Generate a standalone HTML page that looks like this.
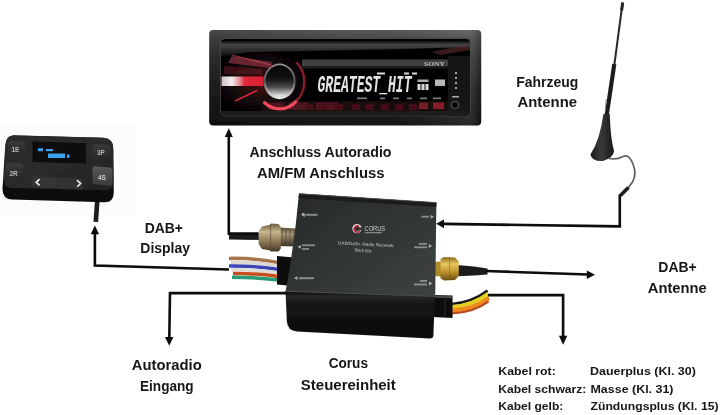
<!DOCTYPE html>
<html><head><meta charset="utf-8"><title>DAB+ Anschluss</title>
<style>
html,body{margin:0;padding:0;background:#fff;width:720px;height:415px;overflow:hidden}
svg{display:block}
text{font-family:"Liberation Sans",sans-serif;font-weight:bold;fill:#161616}
.t14{font-size:14px}
.t12{font-size:11.6px}
.ln{stroke:#0a0a0a;stroke-width:2.6;fill:none;stroke-linejoin:miter}
.ah{fill:#0a0a0a}
</style></head><body>
<svg width="720" height="415" viewBox="0 0 720 415">
<defs>
<filter id="b1" x="-5%" y="-5%" width="110%" height="110%"><feGaussianBlur stdDeviation="0.6"/></filter>
<filter id="b2" x="-5%" y="-5%" width="110%" height="110%"><feGaussianBlur stdDeviation="1"/></filter>
<filter id="b05"><feGaussianBlur stdDeviation="0.4"/></filter>
</defs>
<rect width="720" height="415" fill="#fff"/>

<!-- RADIO -->
<g id="radio">
<defs>
<linearGradient id="rOut" x1="0" y1="0" x2="0" y2="1"><stop offset="0" stop-color="#58585a"/><stop offset="0.09" stop-color="#48484a"/><stop offset="0.3" stop-color="#343434"/><stop offset="0.6" stop-color="#222"/><stop offset="1" stop-color="#131313"/></linearGradient>
<linearGradient id="rSide" x1="0" y1="0" x2="1" y2="0"><stop offset="0" stop-color="#000" stop-opacity="0.18"/><stop offset="0.5" stop-color="#000" stop-opacity="0"/><stop offset="0.95" stop-color="#fff" stop-opacity="0.1"/><stop offset="1" stop-color="#000" stop-opacity="0.2"/></linearGradient>
<linearGradient id="rTop" x1="0" y1="0" x2="0" y2="1"><stop offset="0" stop-color="#101010"/><stop offset="0.25" stop-color="#4a4a4a"/><stop offset="1" stop-color="#141414"/></linearGradient>
<linearGradient id="knob" x1="0" y1="0" x2="0" y2="1"><stop offset="0" stop-color="#040404"/><stop offset="0.45" stop-color="#141414"/><stop offset="0.7" stop-color="#4a4a4a"/><stop offset="0.88" stop-color="#a8a8a8"/><stop offset="1" stop-color="#efefef"/></linearGradient>
<linearGradient id="ring" x1="0" y1="0" x2="0" y2="1"><stop offset="0" stop-color="#9a9a9a"/><stop offset="0.5" stop-color="#555"/><stop offset="1" stop-color="#f0f0f0"/></linearGradient>
<linearGradient id="band" x1="0" y1="0" x2="1" y2="0"><stop offset="0" stop-color="#c8c0c0"/><stop offset="0.25" stop-color="#f4eeee"/><stop offset="0.45" stop-color="#e08088"/><stop offset="0.55" stop-color="#e02a3a"/><stop offset="1" stop-color="#d82030"/></linearGradient>
<radialGradient id="redglow" cx="0.5" cy="0.5" r="0.5"><stop offset="0" stop-color="#a01828" stop-opacity="0.5"/><stop offset="1" stop-color="#400810" stop-opacity="0"/></radialGradient>
<clipPath id="rface"><rect x="221" y="38.5" width="249" height="77" rx="4"/></clipPath>
</defs>
<g filter="url(#b1)">
<rect x="209.2" y="30" width="272" height="95.4" rx="4" fill="url(#rOut)"/>
<rect x="209.2" y="30" width="272" height="95.4" rx="4" fill="url(#rSide)"/><rect x="220.3" y="37.8" width="250.4" height="78.4" rx="4.5" fill="#4a4a4a"/><rect x="221" y="39" width="249" height="76.5" rx="4" fill="#060606"/>
<g clip-path="url(#rface)">
<!-- top reflection -->
<path d="M221 41 H470 V47 L400 49 L250 52 L221 56Z" fill="url(#rTop)" opacity="0.9"/>
<path d="M432 52 L470 44 V50 L440 55Z" fill="#5a2a2e" opacity="0.6"/>
<!-- gray bar above display -->
<rect x="302" y="59.5" width="146" height="7" fill="#414141"/>
<rect x="302" y="66.5" width="146" height="2" fill="#1c1c1c"/>
<rect x="448" y="56" width="22" height="60" fill="#191919"/>
<!-- red glow left -->
<ellipse cx="262" cy="82" rx="46" ry="30" fill="url(#redglow)"/>
<path d="M232 56 L272 62 L270 68 L228 63Z" fill="#b04050" opacity="0.55"/><path d="M224 66 L262 69 L262 74 L224 74Z" fill="#6a1c28" opacity="0.5"/>
<path d="M232 55 L275 66" stroke="#d05060" stroke-width="1.2" opacity="0.6"/>
<!-- red diagonal -->
<path d="M235 101 L257 90.5" stroke="#e03040" stroke-width="1.6" opacity="0.9"/>
<!-- bottom buttons row -->
<rect x="262" y="101.5" width="186" height="9.5" fill="#1a090c"/><g fill="#4e121a"><rect x="268" y="102.5" width="16" height="7.5"/><rect x="289" y="102.5" width="19" height="7.5"/><rect x="316" y="102.5" width="22" height="7.5"/></g>
<g fill="#4a1018" opacity="0.9" transform="translate(0,1)">
<rect x="305" y="103" width="9" height="6"/><rect x="318" y="103" width="9" height="6"/><rect x="334" y="103" width="9" height="6"/>
<rect x="352" y="103" width="8" height="6"/><rect x="366" y="103" width="8" height="6"/><rect x="381" y="103" width="8" height="6"/><rect x="395" y="103" width="8" height="6"/><rect x="409" y="103" width="8" height="6"/>
</g>
<rect x="419" y="102.5" width="9" height="6.5" fill="#7a1a26"/><rect x="433" y="102.5" width="11" height="6.5" fill="#8a1c2a"/>
<!-- small labels above buttons -->
<g fill="#999" opacity="0.8"><rect x="357" y="97.5" width="10" height="1.6"/><rect x="380" y="97.5" width="5" height="1.6"/><rect x="393" y="97.5" width="6" height="1.6"/><rect x="407" y="97.5" width="5" height="1.6"/><rect x="420" y="97.5" width="7" height="1.6"/><rect x="433" y="97.5" width="8" height="1.6"/></g>
<!-- bottom lip -->
<rect x="221" y="111" width="249" height="5" fill="#1c1c1c"/>
</g>
<!-- red arc -->
<path d="M264.6 102.6 A23 25.6 0 0 0 296 101.4" stroke="#f04a5c" stroke-width="3.4" fill="none" stroke-linecap="round"/>
<path d="M296 101.4 A23 25.6 0 0 0 296.4 62.4" stroke="#a82636" stroke-width="2.4" fill="none" opacity="0.8"/>
<!-- band -->
<rect x="221.5" y="76.5" width="42" height="9.5" fill="url(#band)"/>
<!-- knob -->
<ellipse cx="279.6" cy="81.4" rx="16" ry="17.8" fill="url(#ring)"/>
<ellipse cx="279.6" cy="80.8" rx="14" ry="15.6" fill="url(#knob)"/>
<!-- display text -->
<text x="317.5" y="92.3" font-style="italic" font-size="24" textLength="94" lengthAdjust="spacingAndGlyphs" style="fill:#e4e4e4;font-weight:bold;font-family:'Liberation Mono',monospace">GREATEST_HIT</text>
<!-- icons right -->
<g fill="#d8d8d8"><rect x="417.5" y="84" width="3" height="6"/><rect x="421.5" y="84" width="3" height="6"/><rect x="425.5" y="84" width="3" height="6"/><rect x="417.5" y="79.5" width="11" height="2.5" opacity="0.8"/><rect x="435" y="79.5" width="10" height="6.5" opacity="0.85"/>
<rect x="377" y="72.5" width="8" height="2"/><rect x="404" y="72.5" width="5" height="2"/><rect x="412" y="72.5" width="5" height="2"/></g>
<!-- SONY -->
<text x="424" y="66.3" font-size="5.5" textLength="21" lengthAdjust="spacingAndGlyphs" style="fill:#bdbdbd;font-family:'Liberation Serif',serif">SONY</text>
<!-- aux -->
<circle cx="455" cy="105" r="4.6" fill="#3a3a3a"/><circle cx="455" cy="105" r="2.6" fill="#000"/>
<g fill="#aaa"><rect x="455" y="72" width="2" height="2"/><rect x="455" y="77" width="2" height="2"/><rect x="455" y="82" width="2" height="2"/><rect x="455" y="87" width="2" height="2"/><rect x="452" y="96" width="7" height="1.5"/></g>
</g>
</g>
<!-- DISPLAY -->
<g id="display">
<defs>
<linearGradient id="dBody" x1="0" y1="0" x2="1" y2="1"><stop offset="0" stop-color="#2b2b2b"/><stop offset="0.5" stop-color="#2a2a2a"/><stop offset="1" stop-color="#222"/></linearGradient>
<linearGradient id="dBtn" x1="0" y1="0" x2="0" y2="1"><stop offset="0" stop-color="#3a3a3a"/><stop offset="1" stop-color="#272727"/></linearGradient>
<linearGradient id="dBtn2" x1="0" y1="0" x2="0" y2="1"><stop offset="0" stop-color="#5a5a5a"/><stop offset="1" stop-color="#3a3a3a"/></linearGradient>
</defs>
<rect x="0" y="124" width="136" height="92" fill="#fcfcfc" filter="url(#b2)"/>
<g filter="url(#b1)">
<!-- cable -->
<path d="M97.4 199 L95.8 221.8" stroke="#1a1a1a" stroke-width="4.6" fill="none"/>
<!-- side (thickness) -->
<path d="M5 150 Q5 137 13 135.5 L103 137.8 Q113.4 138.4 113.4 149 L113.8 192 Q113.8 202.8 104 202.3 L12 199.5 Q2.4 199 2.5 189 Z" fill="#0d0d0d"/>
<!-- top face -->
<path d="M5.4 146 Q5.4 135.6 13.5 135.3 L103 137.7 Q113 138.2 113 148 L113.3 182 Q113.3 190.6 105 190.2 L12 188 Q3.6 187.6 3.8 180 Z" fill="url(#dBody)"/>
<!-- buttons -->
<path d="M8 143.5 Q8 141 11 141 L23 141.6 Q25.5 141.8 25.5 144.5 L25.5 155 Q25.5 157.5 23 157.4 L11 156.6 Q8 156.4 8 154Z" fill="url(#dBtn)"/>
<path d="M6 165 Q6 162.5 9 162.7 L21 163.6 Q23.5 163.8 23.5 166.5 L23.5 179.5 Q23.5 182 21 181.7 L9 180.4 Q6 180 6 177.5Z" fill="url(#dBtn)"/>
<path d="M92.5 146.5 Q92.5 144 95 144.1 L108 144.8 Q110.5 145 110.5 147.5 L110.5 158 Q110.5 160.5 108 160.4 L95 159.6 Q92.5 159.5 92.5 157Z" fill="url(#dBtn)"/>
<path d="M92.5 168.5 Q92.5 166 95 166.2 L110 167.5 Q112.5 167.8 112.5 170.5 L112.5 183.5 Q112.5 186 110 185.8 L95 184.2 Q92.5 184 92.5 181.5Z" fill="url(#dBtn2)"/>
<path d="M32.5 176.5 L57 177.4 L57 188.4 L32.5 187.2Z" fill="#353535"/>
<path d="M58 177.4 L82.5 178.4 L82.5 189.8 L58 188.6Z" fill="#333"/>
<!-- screen -->
<path d="M32.5 141.5 L86 143.2 L86 163.5 L32.5 162Z" fill="#0a0a0a"/>
<g fill="#3aa4ee"><rect x="38" y="148.2" width="5" height="3"/><rect x="46" y="149" width="7" height="2.2"/><rect x="48" y="153.5" width="17" height="4.5"/><rect x="67" y="154.5" width="2.5" height="3.5"/></g>
<!-- labels -->
<g style="font-size:6px;fill:#e8e8e8" font-size="6">
<text x="11.5" y="152" style="font-size:6.5px;fill:#b8b8b8">1E</text>
<text x="9.5" y="175.5" style="font-size:6.5px;fill:#b8b8b8">2R</text>
<text x="97" y="155" style="font-size:6.5px;fill:#b8b8b8">3P</text>
<text x="98" y="179.5" style="font-size:6.5px;fill:#d0d0d0">4S</text>
</g>
<path d="M39.6 179.2 L36.2 182.3 L39.6 185.4" stroke="#eee" stroke-width="1.6" fill="none"/>
<path d="M77 180.2 L80.6 183.5 L77.2 186.8" stroke="#eee" stroke-width="1.6" fill="none"/>
</g>
</g>
<!-- ANTENNA -->
<g id="antenna" filter="url(#b1)">
<defs><linearGradient id="aBase" x1="0" y1="0" x2="1" y2="0"><stop offset="0" stop-color="#1c1c1c"/><stop offset="0.45" stop-color="#3a3a3a"/><stop offset="1" stop-color="#161616"/></linearGradient></defs>
<!-- thin whip -->
<path d="M622.6 2.5 L614.2 66" stroke="#2a2a2a" stroke-width="2" fill="none"/>
<path d="M622.7 2.5 L621.6 10.5" stroke="#222" stroke-width="3" fill="none"/>
<!-- thick rod -->
<path d="M614.3 64 L606.3 118" stroke="#1e1e1e" stroke-width="4.2" fill="none"/>
<path d="M606.2 99 L605.2 110" stroke="#777" stroke-width="0.8" fill="none"/>
<!-- base -->
<path d="M603.4 114 L609.8 114 Q610.4 138 614 151 Q613.4 158 603 161 Q591.6 161.6 590.4 154.5 Q600 140 603.4 114Z" fill="url(#aBase)"/>
<!-- cable -->
<path d="M609 158.5 Q617 160 623 156.5 Q629 153.5 633 164 Q637 174 632.5 182 L628 188" stroke="#5e5e5e" stroke-width="1.7" fill="none"/>
<path d="M628.4 187.4 L620.4 195.6" stroke="#1c1c1c" stroke-width="3.6" fill="none"/>
</g>
<!-- BOX -->
<g id="box">
<defs>
<linearGradient id="bTop" x1="0" y1="0" x2="1" y2="1"><stop offset="0" stop-color="#262929"/><stop offset="0.45" stop-color="#303434"/><stop offset="1" stop-color="#3e4242"/></linearGradient>
<linearGradient id="bFront" x1="0" y1="0" x2="0" y2="1"><stop offset="0" stop-color="#0c0c0c"/><stop offset="0.12" stop-color="#262626"/><stop offset="0.3" stop-color="#151515"/><stop offset="1" stop-color="#0b0b0b"/></linearGradient>
<linearGradient id="brass" x1="0" y1="0" x2="0" y2="1"><stop offset="0" stop-color="#6e5e40"/><stop offset="0.3" stop-color="#c8b68e"/><stop offset="0.55" stop-color="#9c8860"/><stop offset="1" stop-color="#463824"/></linearGradient>
<linearGradient id="brass2" x1="0" y1="0" x2="0" y2="1"><stop offset="0" stop-color="#5a4e3a"/><stop offset="0.35" stop-color="#a89878"/><stop offset="0.6" stop-color="#7c6e54"/><stop offset="1" stop-color="#3a3024"/></linearGradient>
<linearGradient id="gold" x1="0" y1="0" x2="0" y2="1"><stop offset="0" stop-color="#8a6a18"/><stop offset="0.3" stop-color="#e8c860"/><stop offset="0.6" stop-color="#c49a30"/><stop offset="1" stop-color="#6a4e10"/></linearGradient>
</defs>
<g filter="url(#b1)">
<!-- faint photo bg -->
<!-- radio cable + connector -->
<path d="M229 232.6 L259 232.6 L259 240 L229 239.4Z" fill="#1c1c1c"/>
<path d="M279 227.4 L297 228.4 L297 246.4 L279 246Z" fill="url(#brass2)"/>
<path d="M258.6 231.5 L262 226.4 L270 224.8 L271 223.6 L278.6 224 L280.8 227 L280.8 248.6 L278.6 251.4 L271 251.6 L270 250.4 L262 249 L258.6 244Z" fill="url(#brass)"/><path d="M270.6 224.2 V251.2" stroke="#5a4c36" stroke-width="0.9" opacity="0.8"/><g stroke="#4e4230" stroke-width="0.9" opacity="0.7"><path d="M282 229 V246.4"/><path d="M286 229.2 V246.4"/><path d="M290 229.4 V246.4"/><path d="M294 229.6 V246.4"/></g>
<!-- ribbon wires left -->
<g fill="none" stroke-width="3.5">
<path d="M229 258.4 Q255 258 279 262.6" stroke="#a8744c"/>
<path d="M231 262.2 Q255 261.8 279 266.2" stroke="#dcd8d4"/>
<path d="M229 266 Q255 265.6 279 269.6" stroke="#3a44b8"/>
<path d="M231 269.8 Q255 269.4 279 273" stroke="#e0dcd8"/>
<path d="M233 273.4 Q255 273.2 279 276.4" stroke="#c8501e"/>
<path d="M232 277.2 Q255 277.2 279 280" stroke="#2a9c74"/>
</g>
<!-- left black connector -->
<path d="M277 256 L294 257.5 L292 286 L277 284.5Z" fill="#0c0c0c"/>
<!-- right: sma connector + cable -->
<path d="M457 265 L474 266.6 L487.5 268.6 L487.5 274.6 L474 275.4 L457 276.2Z" fill="#1e1e1e"/>
<path d="M434 262 L442 261.6 L442 276.4 L434 276Z" fill="#b08a28"/>
<path d="M440.5 259 L444 257 L455 257.4 L458.8 261.4 L458.8 276 L455 280 L444 280.4 L440.5 278.2Z" fill="url(#gold)"/><path d="M449.5 257.4 V280" stroke="#7a5a10" stroke-width="0.8" opacity="0.6"/>
<!-- right power wires -->
<g fill="none">
<path d="M452 304 Q472 302.4 487.6 290.6" stroke="#181818" stroke-width="2.6"/>
<path d="M452 307 Q473 305.4 488.4 293.6" stroke="#e4cc24" stroke-width="4"/>
<path d="M452 310.6 Q474 309.2 489 297.8" stroke="#ee8a1c" stroke-width="4"/>
<path d="M452 313.4 Q474 312.4 488.6 301.4" stroke="#b8481c" stroke-width="2.2"/>
</g>
<path d="M433 295 L452.5 295.5 L452.5 318 L433 317Z" fill="#0a0a0a"/>
<!-- front face -->
<path d="M285.5 291 L434.8 296 L433.4 336 Q433 338.6 430 338.4 L297 331.4 Q287.4 331 286.8 321Z" fill="url(#bFront)"/><path d="M434.6 295.4 L452.3 296 L452.3 298.4 L434.6 297.8Z" fill="#4a4a4a"/><path d="M445 297 V317" stroke="#333" stroke-width="1"/>
<!-- top face -->
<path d="M299 193.6 L436.4 202.4 L435.2 296.6 L285.6 291.4 Q294.6 243 299 193.6Z" fill="url(#bTop)"/>
<!-- back rim -->
<path d="M299 193.6 L436.4 202.4 L436.3 207 L298.6 198Z" fill="#1a1b1a"/>
<path d="M299 193.8 L436.4 202.6" stroke="#555" stroke-width="0.8" fill="none"/>
<!-- front highlight edge -->
<path d="M285.4 291.2 L435 296.4" stroke="#4a4c4a" stroke-width="1" fill="none"/>
<!-- labels -->
<g fill="#c4c4c4" opacity="0.85">
<path d="M303.2 212.6 L305.6 214 L305.6 217 L303.2 215.6Z" transform="translate(-1,0)"/>
<path d="M301 214.6 L304.4 212.8 V216.6Z"/><rect x="305.5" y="213.8" width="12" height="2" opacity="0.7"/>
<path d="M297.4 246.8 L300.8 245 V248.8Z"/><rect x="302" y="244.4" width="13" height="1.8" opacity="0.7"/><rect x="302" y="248" width="7" height="1.8" opacity="0.7"/>
<path d="M294 278 L297.4 276.2 V280Z"/><rect x="299" y="277.2" width="15" height="2" opacity="0.7"/>
<path d="M434 216.8 L430.6 215 V218.8Z"/><rect x="421.5" y="215.8" width="7.5" height="1.8" opacity="0.7"/>
<path d="M432.2 246 L428.8 244.2 V248Z"/><rect x="419" y="243" width="8" height="1.8" opacity="0.7"/><rect x="414" y="246.4" width="13" height="1.8" opacity="0.7"/>
<path d="M432.4 283.4 L429 281.6 V285.4Z"/><rect x="420" y="280" width="7" height="1.8" opacity="0.7"/><rect x="414" y="283.6" width="13" height="1.8" opacity="0.7"/>
</g>
<!-- logo -->
<circle cx="357" cy="228.6" r="3.6" fill="none" stroke="#e4dcdc" stroke-width="2.2"/>
<path d="M359 226.6 A3 3 0 1 0 359.6 231" stroke="#b82030" stroke-width="1.6" fill="none"/>
<rect x="358.6" y="227.4" width="3.4" height="3" fill="#303434"/>
<text x="364.6" y="230.6" style="font-size:7px;fill:#cfcfcf;font-weight:normal" textLength="20.5" lengthAdjust="spacingAndGlyphs">CORUS</text>
<rect x="364.8" y="232" width="17" height="1.3" fill="#aaa" opacity="0.7"/>
<text x="338" y="244.4" transform="rotate(3 338 244)" style="font-size:4.6px;fill:#c8c8c8;font-weight:normal" textLength="56" lengthAdjust="spacingAndGlyphs">DAB/DAB+ Radio Receiver</text>
<text x="354.6" y="251.6" transform="rotate(3 354 251)" style="font-size:4.6px;fill:#c8c8c8;font-weight:normal" textLength="17" lengthAdjust="spacingAndGlyphs">Black Box</text>
</g>
</g>
<!-- LINES -->
<g id="lines" filter="url(#b05)">
<!-- radio line -->
<path class="ln" d="M228.8 136 V233.8 H258"/>
<path class="ah" d="M228.8 128.3 L232.8 137 H224.8Z"/>
<!-- display line -->
<path class="ln" d="M94.9 233 V265.5 L229 269.5"/>
<path class="ah" d="M94.9 225.4 L99.1 234.2 H90.7Z"/>
<!-- autoradio eingang line -->
<path class="ln" d="M287 293.1 H170 L169.3 338"/>
<path class="ah" d="M169.2 345.8 L165 337 H173.4Z"/>
<!-- antenna line -->
<path class="ln" d="M619.8 194.6 V226.4 L443 223.9"/>
<path class="ah" d="M436.2 223.7 L444 219.6 V228.2Z"/>
<!-- dab antenna line -->
<path class="ln" d="M486 271 L588 274.5"/>
<path class="ah" d="M595 274.8 L586.8 270.5 V279Z"/>
<!-- power line -->
<path class="ln" d="M488 295.1 H563.1 V337"/>
<path class="ah" d="M563.1 344.8 L558.9 335.8 H567.3Z"/>
</g>
<!-- TEXT -->
<g id="text" filter="url(#b05)">
<text class="t14" x="249.5" y="157" textLength="142" lengthAdjust="spacingAndGlyphs">Anschluss Autoradio</text>
<text class="t14" x="257" y="177.5" textLength="127.5" lengthAdjust="spacingAndGlyphs">AM/FM Anschluss</text>
<text class="t14" x="516.2" y="86.5" textLength="62" lengthAdjust="spacingAndGlyphs">Fahrzeug</text>
<text class="t14" x="517.5" y="106.8" textLength="59.5" lengthAdjust="spacingAndGlyphs">Antenne</text>
<text class="t14" x="144.7" y="232.6" textLength="38.3" lengthAdjust="spacingAndGlyphs">DAB+</text>
<text class="t14" x="140.3" y="253" textLength="49.7" lengthAdjust="spacingAndGlyphs">Display</text>
<text class="t14" x="131.7" y="370.3" textLength="70" lengthAdjust="spacingAndGlyphs">Autoradio</text>
<text class="t14" x="140" y="390.8" textLength="53.7" lengthAdjust="spacingAndGlyphs">Eingang</text>
<text class="t14" x="328.7" y="368.4" textLength="39.3" lengthAdjust="spacingAndGlyphs">Corus</text>
<text class="t14" x="300.8" y="389.7" textLength="95" lengthAdjust="spacingAndGlyphs">Steuereinheit</text>
<text class="t14" x="658.3" y="272" textLength="38.4" lengthAdjust="spacingAndGlyphs">DAB+</text>
<text class="t14" x="647.8" y="292.8" textLength="59" lengthAdjust="spacingAndGlyphs">Antenne</text>
<text class="t12" x="498.3" y="375.2" textLength="57.5" lengthAdjust="spacingAndGlyphs">Kabel rot:</text>
<text class="t12" x="590" y="375.2" textLength="105.8" lengthAdjust="spacingAndGlyphs">Dauerplus (Kl. 30)</text>
<text class="t12" x="498.3" y="392.6" textLength="88" lengthAdjust="spacingAndGlyphs">Kabel schwarz:</text>
<text class="t12" x="590.5" y="392.6" textLength="83" lengthAdjust="spacingAndGlyphs">Masse (Kl. 31)</text>
<text class="t12" x="498.3" y="410" textLength="65" lengthAdjust="spacingAndGlyphs">Kabel gelb:</text>
<text class="t12" x="590.5" y="410" textLength="128" lengthAdjust="spacingAndGlyphs">Zündungsplus (Kl. 15)</text>
</g>
</svg>
</body></html>
